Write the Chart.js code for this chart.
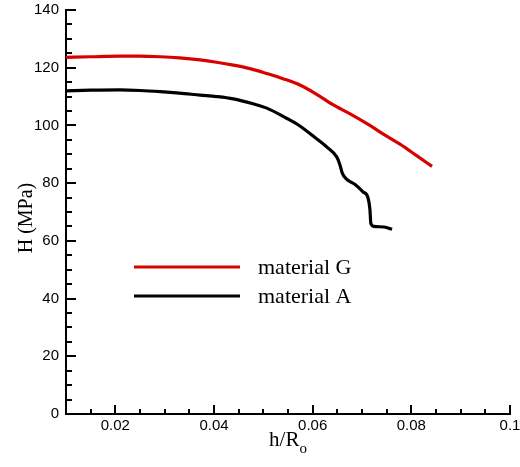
<!DOCTYPE html>
<html>
<head>
<meta charset="utf-8">
<script src="https://cdn.jsdelivr.net/npm/chart.js@4"></script>
<style>
  html, body { margin: 0; padding: 0; background: #fff; }
  #wrap { width: 520px; height: 467px; position: relative; }
</style>
</head>
<body>
<div id="wrap"><canvas id="c" width="520" height="467"></canvas></div>
<script>
// ---- data ----
const seriesNames = ['material G', 'material A'];
const hG = [0.0100, 0.0150, 0.0209, 0.0250, 0.0291, 0.0330, 0.0372, 0.0405, 0.0439, 0.0475, 0.0507, 0.0540, 0.0574, 0.0608, 0.0641, 0.0676, 0.0716, 0.0745, 0.0777, 0.0810, 0.0842];
const HG = [123.6, 123.8, 124.0, 124.0, 123.8, 123.4, 122.7, 121.9, 120.9, 119.6, 118.0, 116.2, 114.0, 110.8, 107.2, 104.0, 100.0, 96.8, 93.5, 89.6, 85.8];
const hA = [0.0100, 0.0150, 0.0209, 0.0250, 0.0291, 0.0330, 0.0372, 0.0405, 0.0439, 0.0479, 0.0507, 0.0548, 0.0574, 0.0601, 0.0629, 0.0649, 0.0655, 0.0660, 0.0668, 0.0686, 0.0702, 0.0712, 0.0716, 0.0718, 0.0724, 0.0745, 0.0761];
const HA = [112.0, 112.2, 112.3, 112.1, 111.7, 111.2, 110.5, 110.0, 109.2, 107.5, 106.0, 102.4, 99.8, 96.3, 92.5, 89.0, 86.5, 83.5, 81.5, 79.5, 77.0, 75.0, 71.0, 66.0, 65.0, 64.8, 64.0];
const xTickValues = [0.02, 0.04, 0.06, 0.08, 0.1];
const xTickLabels = ['0.02', '0.04', '0.06', '0.08', '0.1'];
const xMinorTicks = [0.015, 0.025, 0.03, 0.035, 0.045, 0.05, 0.055, 0.065, 0.07, 0.075, 0.085, 0.09, 0.095];
const yTickValues = [0, 20, 40, 60, 80, 100, 120, 140];
const yTickLabels = ['0', '20', '40', '60', '80', '100', '120', '140'];
const yMinorTicks = [5, 10, 15, 25, 30, 35, 45, 50, 55, 65, 70, 75, 85, 90, 95, 105, 110, 115, 125, 130, 135];
const xTitle = 'h/R';
const xTitleSub = 'o';
const yTitle = 'H (MPa)';
const colors = ['#d90000', '#000000'];

const toXY = (xs, ys) => xs.map((x, i) => ({ x: x, y: ys[i] }));

// inward tick marks drawn from the chart's own scales
const innerTicks = {
  id: 'innerTicks',
  afterDraw(chart) {
    const ctx = chart.ctx, xs = chart.scales.x, ys = chart.scales.y;
    const a = chart.chartArea;
    ctx.save();
    ctx.strokeStyle = '#000';
    ctx.lineWidth = 2;
    const yAxisX = a.left, xAxisY = a.bottom;
    const drawY = (vals, len) => vals.forEach(v => {
      const p = Math.round(ys.getPixelForValue(v));
      ctx.beginPath(); ctx.moveTo(yAxisX, p); ctx.lineTo(yAxisX + len, p); ctx.stroke();
    });
    const drawX = (vals, len) => vals.forEach(v => {
      const p = Math.round(xs.getPixelForValue(v));
      ctx.beginPath(); ctx.moveTo(p, xAxisY); ctx.lineTo(p, xAxisY - len); ctx.stroke();
    });
    drawY(yTickValues, 10); drawY(yMinorTicks, 6);
    drawX(xTickValues, 9); drawX(xMinorTicks, 5);
    ctx.restore();
  }
};

// axis titles (with subscript) and in-plot legend
const titlesAndLegend = {
  id: 'titlesAndLegend',
  afterDraw(chart) {
    const ctx = chart.ctx, a = chart.chartArea;
    ctx.save();
    ctx.fillStyle = '#000';
    // x title
    ctx.font = '21px "Liberation Serif", "Times New Roman", serif';
    ctx.textBaseline = 'alphabetic';
    ctx.textAlign = 'left';
    const w1 = ctx.measureText(xTitle).width;
    ctx.font = '15px "Liberation Serif", "Times New Roman", serif';
    const w2 = ctx.measureText(xTitleSub).width;
    const cx = (a.left + a.right) / 2;
    const x0 = cx - (w1 + w2) / 2;
    ctx.font = '21px "Liberation Serif", "Times New Roman", serif';
    ctx.fillText(xTitle, x0, 446);
    ctx.font = '15px "Liberation Serif", "Times New Roman", serif';
    ctx.fillText(xTitleSub, x0 + w1, 453);
    // y title
    ctx.save();
    ctx.translate(27, 218);
    ctx.rotate(-Math.PI / 2);
    ctx.font = '20px "Liberation Serif", "Times New Roman", serif';
    ctx.textAlign = 'center';
    ctx.textBaseline = 'middle';
    ctx.fillText(yTitle, 0, 0);
    ctx.restore();
    // legend
    const items = chart.data.datasets;
    const ly = [267, 296];
    items.forEach((ds, i) => {
      ctx.strokeStyle = ds.borderColor;
      ctx.lineWidth = 3;
      ctx.beginPath(); ctx.moveTo(134, ly[i]); ctx.lineTo(240, ly[i]); ctx.stroke();
      ctx.font = '22px "Liberation Serif", "Times New Roman", serif';
      ctx.textAlign = 'left';
      ctx.textBaseline = 'middle';
      ctx.fillStyle = '#000';
      ctx.fillText(ds.label, 258, ly[i] + 1);
    });
    ctx.restore();
  }
};

new Chart(document.getElementById('c'), {
  type: 'scatter',
  data: {
    datasets: [
      { label: seriesNames[0], data: toXY(hG, HG), showLine: true, borderColor: colors[0], backgroundColor: colors[0], borderWidth: 3.2, pointRadius: 0, cubicInterpolationMode: 'monotone' },
      { label: seriesNames[1], data: toXY(hA, HA), showLine: true, borderColor: colors[1], backgroundColor: colors[1], borderWidth: 3.2, pointRadius: 0, cubicInterpolationMode: 'monotone' }
    ]
  },
  options: {
    responsive: false,
    animation: false,
    events: [],
    layout: { padding: { top: 10, right: 10, left: 0, bottom: 0 } },
    plugins: { legend: { display: false }, tooltip: { enabled: false } },
    scales: {
      x: {
        type: 'linear', min: 0.01, max: 0.1,
        grid: { display: false, drawTicks: false },
        border: { display: true, color: '#000', width: 2 },
        afterBuildTicks: s => { s.ticks = xTickValues.map(v => ({ value: v })); },
        afterFit: s => { s.height = 53; s.paddingLeft = 0; s.paddingRight = 0; },
        ticks: {
          autoSkip: false, maxRotation: 0, padding: 3, color: '#000',
          font: { family: '"Liberation Sans", Arial, sans-serif', size: 15 },
          callback: (v) => { const i = xTickValues.findIndex(t => Math.abs(t - v) < 1e-9); return i >= 0 ? xTickLabels[i] : ''; }
        }
      },
      y: {
        type: 'linear', min: 0, max: 140,
        grid: { display: false, drawTicks: false },
        border: { display: true, color: '#000', width: 2 },
        afterBuildTicks: s => { s.ticks = yTickValues.map(v => ({ value: v })); },
        afterFit: s => { s.width = 66; s.paddingTop = 0; s.paddingBottom = 0; },
        ticks: {
          autoSkip: false, padding: 7, color: '#000',
          font: { family: '"Liberation Sans", Arial, sans-serif', size: 15 },
          callback: (v) => { const i = yTickValues.indexOf(v); return i >= 0 ? yTickLabels[i] : ''; }
        }
      }
    }
  },
  plugins: [innerTicks, titlesAndLegend]
});
</script>
</body>
</html>
